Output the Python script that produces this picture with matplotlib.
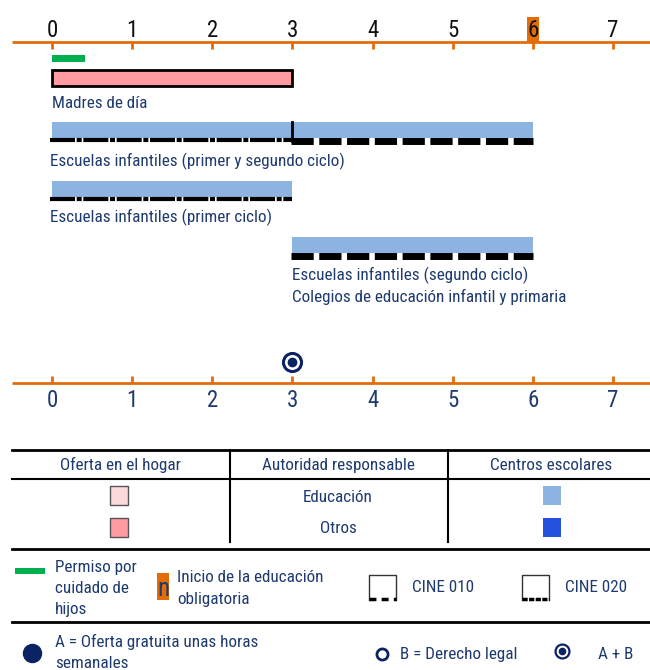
import matplotlib
matplotlib.use("Agg")
import matplotlib.pyplot as plt
from matplotlib import font_manager
from matplotlib.patches import Rectangle

# ---------------- data ----------------
ages = [0, 1, 2, 3, 4, 5, 6, 7]
compulsory_start = 6
leave_start, leave_end = 0, 0.41

prog_labels = [
    "Madres de día",
    "Escuelas infantiles (primer y segundo ciclo)",
    "Escuelas infantiles (primer ciclo)",
    "Escuelas infantiles (segundo ciclo)\nColegios de educación infantil y primaria",
]
prog_start = [0, 0, 0, 3]
prog_end = [3, 6, 3, 6]
prog_kind = ["home_other", "school_edu", "school_edu", "school_edu"]
# ISCED segments under each bar: (start, end, level)
prog_isced = [
    [],
    [(0, 3, "010"), (3, 6, "020")],
    [(0, 3, "010")],
    [(3, 6, "020")],
]
entitlement_age = 3
entitlement_type = "A+B"

# ---------------- styles ----------------
names = {f.name for f in font_manager.fontManager.ttflist}
FONT = "Liberation Sans"
for cand in ["Liberation Sans Narrow", "Roboto Condensed", "Archivo Narrow", "PT Sans Narrow"]:
    if cand in names:
        FONT = cand
        break
plt.rcParams["font.family"] = [FONT, "DejaVu Sans"]

ORANGE = "#E36C0A"
NAVY = "#1F3A6E"
DNAVY = "#0B2263"
PINK_LIGHT = "#FADADB"
PINK = "#FF9BA1"
BLUE_LIGHT = "#8DB3E2"
BLUE = "#2352DE"
GREEN = "#00B050"
colors = {"home_edu": PINK_LIGHT, "home_other": PINK,
          "school_edu": BLUE_LIGHT, "school_other": BLUE}

W, H = 650, 670
fig = plt.figure(figsize=(W / 100, H / 100), dpi=100)

# main timeline axes: x in years, y in layout pixels (top = 0)
ax_l, ax_r, ax_t, ax_b = 12, 650, 0, 420
px_per_year = 80.14
x0_px = 52
ax = fig.add_axes([ax_l / W, 1 - ax_b / H, (ax_r - ax_l) / W, (ax_b - ax_t) / H])
ax.set_xlim((ax_l - x0_px) / px_per_year, (ax_r - x0_px) / px_per_year)
ax.set_ylim(ax_b, ax_t)
ax.axis("off")

xmin, xmax = ax.get_xlim()
# top axis
top_y = 42
ax.plot([xmin, xmax], [top_y, top_y], color=ORANGE, lw=2, solid_capstyle="butt")
ax.vlines(ages, top_y, top_y + 7, color=ORANGE, lw=2)
ax.add_patch(Rectangle((compulsory_start - 0.075, 17), 0.15, top_y - 17,
                       facecolor=ORANGE, edgecolor="none", zorder=1))
for a in ages:
    ax.text(a, 37, str(a), ha="center", va="baseline", fontsize=16.5,
            color="#111111", zorder=2)

# bottom axis
bot_y = 383
ax.plot([xmin, xmax], [bot_y, bot_y], color=ORANGE, lw=2, solid_capstyle="butt")
ax.vlines(ages, bot_y - 7, bot_y, color=ORANGE, lw=2)
for a in ages:
    ax.text(a, 407, str(a), ha="center", va="baseline", fontsize=16.5, color=NAVY)

# parental leave
ax.fill_between([leave_start, leave_end], 55, 62, color=GREEN, lw=0)

# programmes
bar_top = [70, 122, 181, 237]
bar_h = 16
label_y = [108, 166, 222, 280]
for i, lab in enumerate(prog_labels):
    s, e = prog_start[i], prog_end[i]
    kind = prog_kind[i]
    if kind.startswith("home"):
        ax.add_patch(Rectangle((s, bar_top[i]), e - s, bar_h, facecolor=colors[kind],
                               edgecolor="black", lw=2, zorder=3))
    else:
        ax.add_patch(Rectangle((s, bar_top[i]), e - s, bar_h, facecolor=colors[kind],
                               edgecolor="none", zorder=3))
    ly = bar_top[i] + bar_h + 2
    for (cs, ce, lev) in prog_isced[i]:
        if lev == "010":
            ax.plot([cs - 0.03, ce], [ly, ly], color="black", lw=3,
                    linestyle=(0, (6, 0.4, 1.2, 0.4)), zorder=4,
                    solid_capstyle="butt", dash_capstyle="butt")
        else:
            ax.plot([cs - 0.02, ce], [ly + 1, ly + 1], color="black", lw=5,
                    linestyle=(0, (3.2, 0.8)), zorder=4, dash_capstyle="butt")
    if len(prog_isced[i]) > 1:
        b = prog_isced[i][0][1]
        ax.plot([b, b], [bar_top[i], ly + 1], color="black", lw=2, zorder=5)
    lines = lab.split("\n")
    dx = -0.03 if (prog_isced[i] and s == 0) else 0
    for k, t in enumerate(lines):
        ax.text(s + dx, label_y[i] + 22 * k, t,
                ha="left", va="baseline", fontsize=12.3, color=NAVY)

# entitlement marker
ax.plot([entitlement_age], [362], marker="o", ms=13, mfc="white", mec=DNAVY, mew=2.2,
        zorder=5)
ax.plot([entitlement_age], [362], marker="o", ms=6, mfc=DNAVY, mec=DNAVY, zorder=6)

# ---------------- legend (pixel coordinates) ----------------
lg = fig.add_axes([0, 0, 1, 1])
lg.set_xlim(0, W)
lg.set_ylim(H, 0)
lg.axis("off")

lg.plot([12, 650], [450, 450], color="black", lw=2)
lg.plot([12, 650], [479, 479], color="black", lw=1.5)
lg.plot([12, 650], [549, 549], color="black", lw=2)
lg.plot([12, 650], [622, 622], color="black", lw=2)
lg.plot([230, 230], [450, 542], color="black", lw=1.5)
lg.plot([448, 448], [450, 542], color="black", lw=1.5)

fs = 12.3
lg.text(120, 470, "Oferta en el hogar", ha="center", va="baseline", fontsize=fs, color=NAVY)
lg.text(338, 470, "Autoridad responsable", ha="center", va="baseline", fontsize=fs, color=NAVY)
lg.text(551, 470, "Centros escolares", ha="center", va="baseline", fontsize=fs, color=NAVY)
lg.text(338, 502, "Educación", ha="center", va="baseline", fontsize=fs, color=NAVY)
lg.text(338, 533, "Otros", ha="center", va="baseline", fontsize=fs, color=NAVY)
lg.add_patch(Rectangle((110, 486), 18, 19, facecolor=PINK_LIGHT, edgecolor="#555555", lw=1))
lg.add_patch(Rectangle((110, 518), 18, 19, facecolor=PINK, edgecolor="#555555", lw=1))
lg.add_patch(Rectangle((543, 486), 18, 19, facecolor=BLUE_LIGHT, edgecolor="none"))
lg.add_patch(Rectangle((543, 518), 18, 19, facecolor=BLUE, edgecolor="none"))

# leave
lg.add_patch(Rectangle((15, 568), 30, 6, facecolor=GREEN, edgecolor="none"))
for k, t in enumerate(["Permiso por", "cuidado de", "hijos"]):
    lg.text(55, 572 + 21 * k, t, ha="left", va="baseline", fontsize=fs, color=NAVY)
# compulsory
lg.add_patch(Rectangle((157, 573), 12, 27, facecolor=ORANGE, edgecolor="none"))
lg.text(163, 596, "n", ha="center", va="baseline", fontsize=18, color=NAVY)
lg.text(177, 582, "Inicio de la educación", ha="left", va="baseline", fontsize=fs, color=NAVY)
lg.text(177, 604, "obligatoria", ha="left", va="baseline", fontsize=fs, color=NAVY)
# CINE icons
for xi, style, lab in [(369, (0, (2, 1.5)), "CINE 010"), (522, (0, (1.5, 0.4)), "CINE 020")]:
    lg.plot([xi, xi, xi + 27, xi + 27], [600, 575, 575, 600], color="#333333", lw=1)
    lg.plot([xi, xi + 27], [599, 599], color="black", lw=2.5, linestyle=style,
            dash_capstyle="butt")
    lg.text(xi + 43, 592, lab, ha="left", va="baseline", fontsize=fs, color=NAVY)

# entitlement legend
lg.plot([32], [653], marker="o", ms=13, mfc=DNAVY, mec=DNAVY)
lg.text(55, 647, "A = Oferta gratuita unas horas", ha="left", va="baseline", fontsize=fs, color=NAVY)
lg.text(55, 668, "semanales", ha="left", va="baseline", fontsize=fs, color=NAVY)
lg.plot([382], [654], marker="o", ms=8, mfc="white", mec=DNAVY, mew=2)
lg.text(400, 659, "B = Derecho legal", ha="left", va="baseline", fontsize=fs, color=NAVY)
lg.plot([562], [651], marker="o", ms=10, mfc="white", mec=DNAVY, mew=1.6)
lg.plot([562], [651], marker="o", ms=4.5, mfc=DNAVY, mec=DNAVY)
lg.text(598, 659, "A + B", ha="left", va="baseline", fontsize=fs, color=NAVY)

fig.savefig("out.png", dpi=100)
